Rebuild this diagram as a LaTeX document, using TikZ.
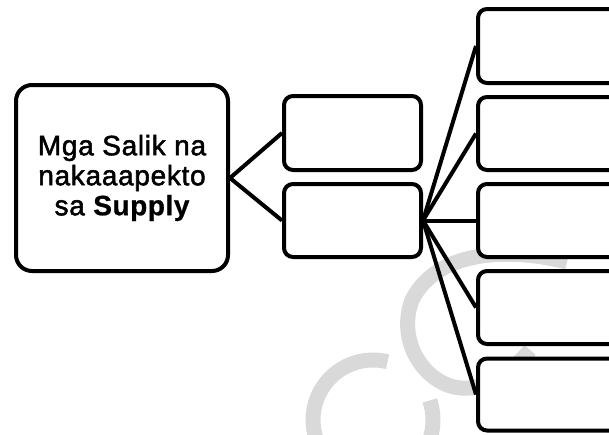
\documentclass[tikz,border=0pt]{standalone}
\usepackage{fontspec}
\setmainfont{Liberation Sans}
\newfontfamily\labelfont[FakeBold=1.8,LetterSpace=2.5]{Liberation Sans}
\newfontfamily\labelfontb[FakeBold=0.8,LetterSpace=2]{Liberation Sans Bold}
\begin{document}
\begin{tikzpicture}[x=1pt,y=-1pt,
  bx/.style={draw=black,line width=4pt,fill=white,rectangle,inner sep=0pt,rounded corners=9pt},
  conn/.style={draw=black,line width=4pt},
  wm/.style={draw=black!15,line width=15pt}]
\useasboundingbox (0,0) rectangle (609,434);
\clip (0,0) rectangle (609,434);
% watermark
\draw[wm] (567,262) .. controls (520,250) and (440,245) .. (412,300) .. controls (395,345) and (430,392) .. (470,388) .. controls (495,385) and (515,368) .. (530,350);
\draw[wm] (373,420) ++(-76:60) arc[start angle=-76,end angle=-379,radius=60];
% boxes
\node[bx,rounded corners=16pt,minimum width=212pt,minimum height=186pt,align=center,
  font=\labelfont\fontsize{28}{30}\selectfont] (main) at (122,178) {Mga Salik na\\nakaaapekto\\sa {\labelfontb Supply}};
\node[bx,minimum width=137pt,minimum height=74pt] (m1) at (352.5,133) {};
\node[bx,minimum width=137pt,minimum height=73pt] (m2) at (352.5,220.5) {};
\node[bx,minimum width=162pt,minimum height=74pt] (r1) at (559,46) {};
\node[bx,minimum width=162pt,minimum height=73pt] (r2) at (559,133.5) {};
\node[bx,minimum width=162pt,minimum height=73pt] (r3) at (559,220.5) {};
\node[bx,minimum width=162pt,minimum height=73pt] (r4) at (559,307.5) {};
\node[bx,minimum width=162pt,minimum height=72pt] (r5) at (559,394.5) {};
% connectors
\draw[conn] (main.east) -- (m1.west);
\draw[conn] (main.east) -- (m2.west);
\foreach \r in {r1,r2,r3,r4,r5} \draw[conn] (m2.east) -- (\r.west);
\end{tikzpicture}
\end{document}
